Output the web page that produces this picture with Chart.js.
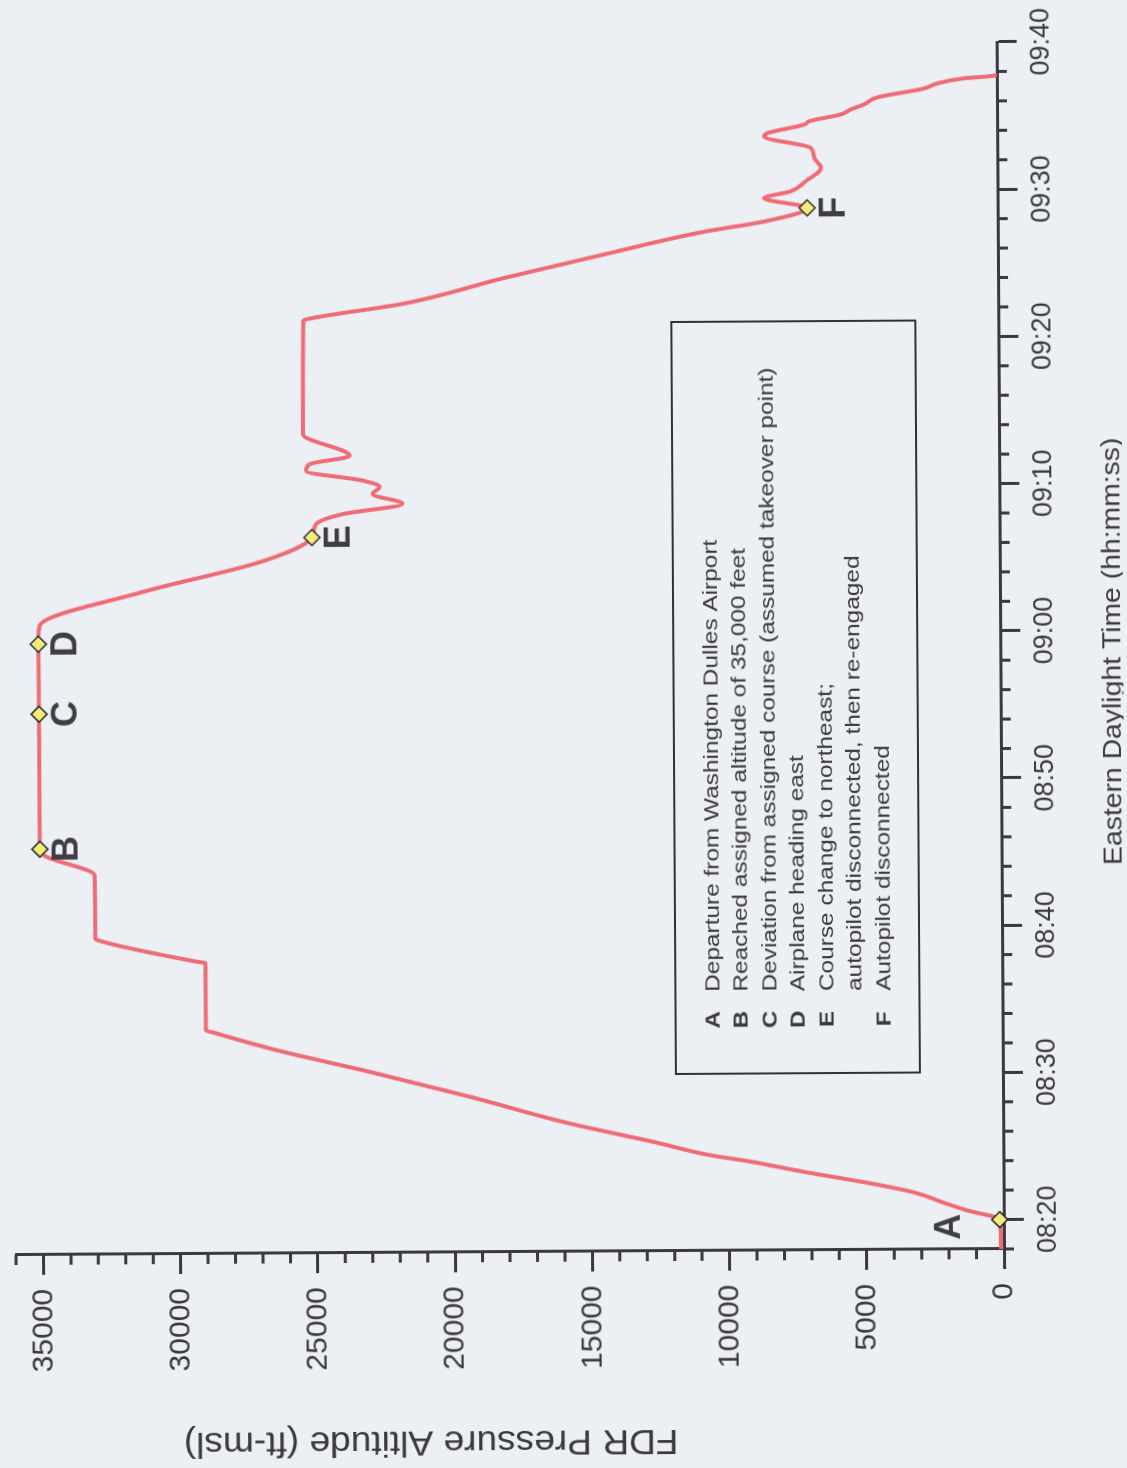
<!DOCTYPE html>
<html>
<head>
<meta charset="utf-8">
<title>FDR Pressure Altitude</title>
<script src="https://cdn.jsdelivr.net/npm/chart.js@4.4.1/dist/chart.umd.min.js"></script>
<style>
  html, body { margin: 0; padding: 0; background: #eceff4; overflow: hidden; }
  body { width: 1127px; height: 1468px; position: relative; }
  /* chart is drawn landscape, then turned a quarter left like the printed page */
  #wrap { position: absolute; left: 0; top: 0; width: 1468px; height: 1127px;
          transform-origin: 219px 1004px; transform: translate(785px, 245px) rotate(-90.35deg); }
</style>
</head>
<body>
<div id="wrap"><canvas id="chart" width="1468" height="1127"></canvas></div>
<script>
// axis ticks
const altTicks = [0, 5000, 10000, 15000, 20000, 25000, 30000, 35000];
const timeTicks = [20, 30, 40, 50, 60, 70, 80, 90, 100]; // minutes after 08:00
const timeTickLabels = ['08:20', '08:30', '08:40', '08:50', '09:00', '09:10', '09:20', '09:30', '09:40'];

// FDR trace: minutes after 08:00 and pressure altitude (ft)
const flightMinutes = [18.0, 19.5, 20.0, 20.65, 21.1, 21.9, 22.48, 23.37, 24.05, 24.5,
  25.4, 26.76, 28.58, 30.38, 31.74, 32.99, 33.2, 37.75, 37.86, 39.33,
  39.45, 43.75, 45.1, 45.56, 54.73, 59.49, 60.73, 62.99, 65.03, 66.62,
  67.52, 68.2, 68.88, 69.56, 70.02, 70.47, 71.15, 71.6, 72.16, 73.64,
  81.34, 81.45, 82.47, 84.17, 85.73, 87.23, 87.9, 88.81, 89.49, 89.94,
  90.62, 91.53, 92.2, 92.88, 93.68, 93.9, 94.47, 94.7, 95.15, 95.49,
  95.83, 96.29, 96.88, 97.21, 97.55, 97.69, 97.76];
const flightAltitudes = [100, 120, 150, 1350, 2080, 3300, 4750, 7400, 9230, 10700,
  12700, 15910, 19460, 23250, 26320, 28680, 29030, 29030, 29370, 32920,
  33040, 33050, 34860, 35040, 35040, 35050, 35000, 31240, 26860, 25060,
  24910, 23930, 21750, 22840, 22580, 23190, 25260, 25130, 23670, 25360,
  25320, 25200, 21670, 18010, 14360, 10710, 8520, 6940, 8510, 7540,
  6990, 6430, 6670, 6790, 8490, 8380, 7030, 6840, 5690, 5320,
  4830, 4360, 2640, 2170, 1180, 200, 0];

// event markers
const markerLabels = ['A', 'B', 'C', 'D', 'E', 'F'];
const markerMinutes = [20.0, 45.56, 54.73, 59.49, 66.62, 88.81];
const markerAltitudes = [150, 35040, 35040, 35050, 25060, 6940];

// key box
const legendKeys = ['A', 'B', 'C', 'D', 'E', '', 'F'];
const legendLines = [
  'Departure from Washington Dulles Airport',
  'Reached assigned altitude of 35,000 feet',
  'Deviation from assigned course (assumed takeover point)',
  'Airplane heading east',
  'Course change to northeast;',
  'autopilot disconnected, then re-engaged',
  'Autopilot disconnected'
];

const INK = '#3b383f';
const FONT = "'Liberation Sans', Arial, sans-serif";
Chart.defaults.font.family = FONT;

// short ticks between the labelled ones
const minorTicks = {
  id: 'minorTicks',
  afterDraw(chart) {
    const { ctx, chartArea, scales: { x, y } } = chart;
    ctx.save();
    ctx.strokeStyle = INK;
    ctx.lineWidth = 3;
    ctx.beginPath();
    for (let v = 1000; v <= 36000; v += 1000) {
      if (v % 5000 === 0) continue;
      const py = y.getPixelForValue(v);
      ctx.moveTo(chartArea.left, py);
      ctx.lineTo(chartArea.left - 10, py);
    }
    for (let m = 18; m < 100; m += 2) {
      if (m % 10 === 0) continue;
      const px = x.getPixelForValue(m);
      ctx.moveTo(px, chartArea.bottom);
      ctx.lineTo(px, chartArea.bottom + 10);
    }
    ctx.stroke();
    ctx.restore();
  }
};

// axis titles (slightly stretched like the scan)
const axisTitles = {
  id: 'axisTitles',
  afterDraw(chart) {
    const { ctx } = chart;
    ctx.save();
    ctx.fillStyle = INK;
    ctx.textAlign = 'center';
    ctx.textBaseline = 'middle';
    ctx.font = '35px ' + FONT;
    ctx.translate(30, 430);
    ctx.rotate(-Math.PI / 2);
    ctx.scale(1.06, 1);
    ctx.fillText('FDR Pressure Altitude (ft-msl)', 0, 0);
    ctx.restore();

    ctx.save();
    ctx.fillStyle = INK;
    ctx.textAlign = 'center';
    ctx.textBaseline = 'alphabetic';
    ctx.font = '26px ' + FONT;
    ctx.translate(816, 1124);
    ctx.scale(1.09, 1);
    ctx.fillText('Eastern Daylight Time (hh:mm:ss)', 0, 0);
    ctx.restore();
  }
};

// letters next to the event markers
const markerText = {
  id: 'markerText',
  afterDatasetsDraw(chart) {
    const { ctx } = chart;
    const meta = chart.getDatasetMeta(0);
    ctx.save();
    ctx.fillStyle = '#3f3c44';
    ctx.font = 'bold 36px ' + FONT;
    ctx.textAlign = 'center';
    ctx.textBaseline = 'middle';
    meta.data.forEach((pt, i) => {
      const dx = i === 0 ? -7 : 0;
      const dy = i === 0 ? -50 : 28;
      ctx.fillText(markerLabels[i], pt.x + dx, pt.y + dy);
    });
    ctx.restore();
  }
};

// the key box in the middle of the plot
const keyBox = {
  id: 'keyBox',
  afterDraw(chart) {
    const { ctx } = chart;
    ctx.save();
    ctx.strokeStyle = '#333136';
    ctx.lineWidth = 2;
    ctx.strokeRect(396, 677, 752, 244);
    ctx.fillStyle = INK;
    ctx.textBaseline = 'middle';
    legendLines.forEach((line, i) => {
      const cy = 715 + i * 28.5;
      if (legendKeys[i]) {
        ctx.save();
        ctx.font = 'bold 21px ' + FONT;
        ctx.textAlign = 'center';
        ctx.translate(450, cy);
        ctx.scale(1.15, 1);
        ctx.fillText(legendKeys[i], 0, 0);
        ctx.restore();
      }
      ctx.save();
      ctx.font = '20px ' + FONT;
      ctx.textAlign = 'left';
      ctx.translate(478, cy);
      ctx.scale(1.22, 1);
      ctx.fillText(line, 0, 0);
      ctx.restore();
    });
    ctx.restore();
  }
};

new Chart(document.getElementById('chart'), {
  type: 'line',
  data: {
    datasets: [
      {
        label: 'Events',
        data: markerMinutes.map((m, i) => ({ x: m, y: markerAltitudes[i] })),
        showLine: false,
        pointStyle: 'rectRot',
        pointRadius: 8,
        backgroundColor: '#f3ec78',
        borderColor: '#2e2c30',
        borderWidth: 1.5,
        clip: false,
        order: 0
      },
      {
        label: 'FDR Pressure Altitude',
        data: flightMinutes.map((m, i) => ({ x: m, y: flightAltitudes[i] })),
        borderColor: '#ef6b76',
        borderWidth: 4,
        pointRadius: 0,
        cubicInterpolationMode: 'monotone',
        fill: false,
        order: 1
      }
    ]
  },
  options: {
    responsive: false,
    animation: false,
    layout: { padding: { top: 16, right: 42, left: 0, bottom: 0 } },
    plugins: { legend: { display: false }, tooltip: { enabled: false } },
    scales: {
      x: {
        type: 'linear',
        min: 18,
        max: 100,
        afterBuildTicks: s => { s.ticks = timeTicks.map(v => ({ value: v })); },
        afterFit: s => { s.height = 123; s.paddingLeft = 0; s.paddingRight = 0; },
        border: { display: true, color: INK, width: 3 },
        grid: { drawOnChartArea: false, drawTicks: true, tickLength: 20, tickWidth: 3, tickColor: INK },
        ticks: {
          color: INK,
          font: { size: 27 },
          padding: 8,
          maxRotation: 0,
          autoSkip: false,
          callback: (v, i) => timeTickLabels[i]
        }
      },
      y: {
        type: 'linear',
        min: 0,
        max: 36000,
        afterBuildTicks: s => { s.ticks = altTicks.map(v => ({ value: v })); },
        afterFit: s => { s.width = 219; s.paddingTop = 0; s.paddingBottom = 0; },
        border: { display: true, color: INK, width: 3 },
        grid: { drawOnChartArea: false, drawTicks: true, tickLength: 20, tickWidth: 3, tickColor: INK },
        ticks: {
          color: INK,
          font: { size: 30 },
          padding: 14,
          autoSkip: false,
          callback: v => String(v)
        }
      }
    }
  },
  plugins: [minorTicks, axisTitles, markerText, keyBox]
});
</script>
</body>
</html>
